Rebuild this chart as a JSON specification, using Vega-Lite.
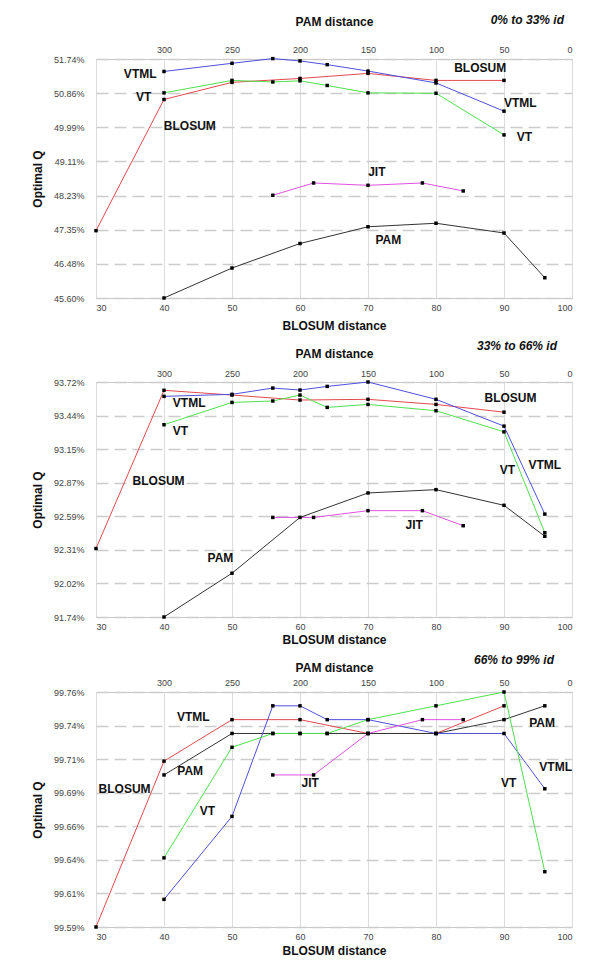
{
  "$schema": "https://vega.github.io/schema/vega-lite/v6.json",
  "background": "white",
  "padding": {"left": 30, "top": 13, "right": 5, "bottom": 5},
  "spacing": 7,
  "datasets": {
    "p1": [
      {"series": "BLOSUM", "x": 30, "y": 47.33}, {"series": "BLOSUM", "x": 40, "y": 50.70}, {"series": "BLOSUM", "x": 50, "y": 51.14}, {"series": "BLOSUM", "x": 60, "y": 51.24}, {"series": "BLOSUM", "x": 70, "y": 51.37}, {"series": "BLOSUM", "x": 80, "y": 51.19}, {"series": "BLOSUM", "x": 90, "y": 51.19},
      {"series": "VTML", "x": 40, "y": 51.42}, {"series": "VTML", "x": 50, "y": 51.63}, {"series": "VTML", "x": 56, "y": 51.75}, {"series": "VTML", "x": 60, "y": 51.69}, {"series": "VTML", "x": 64, "y": 51.595}, {"series": "VTML", "x": 70, "y": 51.43}, {"series": "VTML", "x": 80, "y": 51.125}, {"series": "VTML", "x": 90, "y": 50.40},
      {"series": "VT", "x": 40, "y": 50.87}, {"series": "VT", "x": 50, "y": 51.19}, {"series": "VT", "x": 56, "y": 51.15}, {"series": "VT", "x": 60, "y": 51.18}, {"series": "VT", "x": 64, "y": 51.06}, {"series": "VT", "x": 70, "y": 50.87}, {"series": "VT", "x": 80, "y": 50.86}, {"series": "VT", "x": 90, "y": 49.79},
      {"series": "JIT", "x": 56, "y": 48.24}, {"series": "JIT", "x": 62, "y": 48.555}, {"series": "JIT", "x": 70, "y": 48.495}, {"series": "JIT", "x": 78, "y": 48.555}, {"series": "JIT", "x": 84, "y": 48.35},
      {"series": "PAM", "x": 40, "y": 45.60}, {"series": "PAM", "x": 50, "y": 46.37}, {"series": "PAM", "x": 60, "y": 47.00}, {"series": "PAM", "x": 70, "y": 47.43}, {"series": "PAM", "x": 80, "y": 47.52}, {"series": "PAM", "x": 90, "y": 47.27}, {"series": "PAM", "x": 96, "y": 46.12}
    ],
    "p2": [
      {"series": "BLOSUM", "x": 30, "y": 92.317}, {"series": "BLOSUM", "x": 40, "y": 93.65}, {"series": "BLOSUM", "x": 50, "y": 93.61}, {"series": "BLOSUM", "x": 60, "y": 93.568}, {"series": "BLOSUM", "x": 70, "y": 93.574}, {"series": "BLOSUM", "x": 80, "y": 93.531}, {"series": "BLOSUM", "x": 90, "y": 93.466},
      {"series": "VTML", "x": 40, "y": 93.599}, {"series": "VTML", "x": 50, "y": 93.616}, {"series": "VTML", "x": 56, "y": 93.669}, {"series": "VTML", "x": 60, "y": 93.652}, {"series": "VTML", "x": 64, "y": 93.683}, {"series": "VTML", "x": 70, "y": 93.72}, {"series": "VTML", "x": 80, "y": 93.574}, {"series": "VTML", "x": 90, "y": 93.348}, {"series": "VTML", "x": 96, "y": 92.607},
      {"series": "VT", "x": 40, "y": 93.36}, {"series": "VT", "x": 50, "y": 93.548}, {"series": "VT", "x": 56, "y": 93.56}, {"series": "VT", "x": 60, "y": 93.61}, {"series": "VT", "x": 64, "y": 93.506}, {"series": "VT", "x": 70, "y": 93.531}, {"series": "VT", "x": 80, "y": 93.478}, {"series": "VT", "x": 90, "y": 93.30}, {"series": "VT", "x": 96, "y": 92.45},
      {"series": "JIT", "x": 56, "y": 92.579}, {"series": "JIT", "x": 62, "y": 92.579}, {"series": "JIT", "x": 70, "y": 92.636}, {"series": "JIT", "x": 78, "y": 92.636}, {"series": "JIT", "x": 84, "y": 92.509},
      {"series": "PAM", "x": 40, "y": 91.74}, {"series": "PAM", "x": 50, "y": 92.109}, {"series": "PAM", "x": 60, "y": 92.579}, {"series": "PAM", "x": 70, "y": 92.785}, {"series": "PAM", "x": 80, "y": 92.813}, {"series": "PAM", "x": 90, "y": 92.681}, {"series": "PAM", "x": 96, "y": 92.42}
    ],
    "p3": [
      {"series": "BLOSUM", "x": 30, "y": 99.59}, {"series": "BLOSUM", "x": 40, "y": 99.71}, {"series": "BLOSUM", "x": 50, "y": 99.74}, {"series": "BLOSUM", "x": 60, "y": 99.74}, {"series": "BLOSUM", "x": 70, "y": 99.73}, {"series": "BLOSUM", "x": 80, "y": 99.73}, {"series": "BLOSUM", "x": 90, "y": 99.75},
      {"series": "PAM", "x": 40, "y": 99.70}, {"series": "PAM", "x": 50, "y": 99.73}, {"series": "PAM", "x": 56, "y": 99.73}, {"series": "PAM", "x": 60, "y": 99.73}, {"series": "PAM", "x": 64, "y": 99.73}, {"series": "PAM", "x": 70, "y": 99.73}, {"series": "PAM", "x": 80, "y": 99.73}, {"series": "PAM", "x": 90, "y": 99.74}, {"series": "PAM", "x": 96, "y": 99.75},
      {"series": "VTML", "x": 40, "y": 99.61}, {"series": "VTML", "x": 50, "y": 99.67}, {"series": "VTML", "x": 56, "y": 99.75}, {"series": "VTML", "x": 60, "y": 99.75}, {"series": "VTML", "x": 64, "y": 99.74}, {"series": "VTML", "x": 70, "y": 99.74}, {"series": "VTML", "x": 80, "y": 99.73}, {"series": "VTML", "x": 90, "y": 99.73}, {"series": "VTML", "x": 96, "y": 99.69},
      {"series": "VT", "x": 40, "y": 99.64}, {"series": "VT", "x": 50, "y": 99.72}, {"series": "VT", "x": 56, "y": 99.73}, {"series": "VT", "x": 60, "y": 99.73}, {"series": "VT", "x": 64, "y": 99.73}, {"series": "VT", "x": 70, "y": 99.74}, {"series": "VT", "x": 80, "y": 99.75}, {"series": "VT", "x": 90, "y": 99.76}, {"series": "VT", "x": 96, "y": 99.63},
      {"series": "JIT", "x": 56, "y": 99.70}, {"series": "JIT", "x": 62, "y": 99.70}, {"series": "JIT", "x": 70, "y": 99.73}, {"series": "JIT", "x": 78, "y": 99.74}, {"series": "JIT", "x": 84, "y": 99.74}
    ],
    "l1": [
      {"label": "VTML", "x": 36.5, "y": 51.36}, {"label": "VT", "x": 37.0, "y": 50.76}, {"label": "BLOSUM", "x": 43.8, "y": 50.015}, {"label": "BLOSUM", "x": 86.5, "y": 51.50},
      {"label": "VTML", "x": 92.4, "y": 50.61}, {"label": "VT", "x": 93.0, "y": 49.725}, {"label": "JIT", "x": 71.3, "y": 48.84}, {"label": "PAM", "x": 73.0, "y": 47.08}
    ],
    "l2": [
      {"label": "VTML", "x": 43.7, "y": 93.543}, {"label": "VT", "x": 42.4, "y": 93.306}, {"label": "BLOSUM", "x": 39.2, "y": 92.886}, {"label": "BLOSUM", "x": 90.95, "y": 93.588},
      {"label": "VT", "x": 90.5, "y": 92.982}, {"label": "VTML", "x": 96.0, "y": 93.024}, {"label": "JIT", "x": 76.8, "y": 92.517}, {"label": "PAM", "x": 48.3, "y": 92.233}
    ],
    "l3": [
      {"label": "VTML", "x": 44.3, "y": 99.742}, {"label": "PAM", "x": 43.85, "y": 99.7028}, {"label": "BLOSUM", "x": 34.2, "y": 99.690}, {"label": "VT", "x": 46.4, "y": 99.674},
      {"label": "JIT", "x": 61.5, "y": 99.6944}, {"label": "PAM", "x": 95.6, "y": 99.7379}, {"label": "VTML", "x": 97.6, "y": 99.7061}, {"label": "VT", "x": 90.7, "y": 99.6939}
    ]
  },
  "vconcat": [
    {
      "width": 476, "height": 239,
      "title": {"text": "0% to 33% id", "anchor": "end", "frame": "group", "fontStyle": "italic", "fontWeight": "bold", "fontSize": 12, "offset": -12, "dx": -8, "color": "#111"},
      "resolve": {"axis": {"x": "independent"}},
      "layer": [
        {
          "data": {"name": "p1"},
          "mark": {"type": "line", "strokeWidth": 1},
          "encoding": {
            "x": {"field": "x", "type": "quantitative", "scale": {"domain": [30, 100], "nice": false}, "axis": {"orient": "bottom", "values": [30, 40, 50, 60, 70, 80, 90, 100], "tickCount": 20, "grid": true, "gridColor": "#dcdcdc", "title": "BLOSUM distance", "labelPadding": 5, "titlePadding": 8}},
            "y": {"field": "y", "type": "quantitative", "scale": {"domain": [45.6, 51.74], "nice": false, "zero": false}, "axis": {"values": [45.6, 46.477143, 47.354286, 48.231429, 49.108571, 49.985714, 50.862857, 51.74], "tickCount": 20, "labelExpr": "format(datum.value, '.2f') + '%'", "labelOverlap": false, "grid": true, "gridDash": [12, 6], "gridColor": "#cccccc", "gridWidth": 1.5, "title": "Optimal Q", "labelPadding": 12, "titlePadding": 9}},
            "color": {"field": "series", "type": "nominal", "scale": {"domain": ["BLOSUM", "VTML", "VT", "JIT", "PAM"], "range": ["#e4494e", "#4f4fe0", "#4fe04f", "#e052e0", "#333333"]}, "legend": null}
          }
        },
        {
          "data": {"name": "p1"},
          "mark": {"type": "point", "shape": "square", "filled": true, "color": "#000000", "size": 12, "opacity": 1},
          "encoding": {
            "x": {"field": "x", "type": "quantitative", "axis": {"orient": "top", "values": [40, 50, 60, 70, 80, 90, 100], "tickCount": 20, "labelExpr": "toString((100 - datum.value) * 5)", "grid": false, "title": "PAM distance", "labelPadding": 5, "titlePadding": 17}},
            "y": {"field": "y", "type": "quantitative", "axis": {"labelOverlap": false, "tickCount": 20, "title": "Optimal Q"}}
          }
        },
        {
          "data": {"name": "l1"},
          "mark": {"type": "text", "fontWeight": "bold", "fontSize": 12, "font": "Liberation Sans", "color": "#111", "align": "center", "baseline": "middle"},
          "encoding": {
            "x": {"field": "x", "type": "quantitative", "axis": null},
            "y": {"field": "y", "type": "quantitative", "axis": {"labelOverlap": false, "tickCount": 20, "title": "Optimal Q"}},
            "text": {"field": "label"}
          }
        }
      ]
    },
    {
      "width": 476, "height": 235,
      "title": {"text": "33% to 66% id", "anchor": "end", "frame": "group", "fontStyle": "italic", "fontWeight": "bold", "fontSize": 12, "offset": -6, "dx": -15, "color": "#111"},
      "resolve": {"axis": {"x": "independent"}},
      "layer": [
        {
          "data": {"name": "p2"},
          "mark": {"type": "line", "strokeWidth": 1},
          "encoding": {
            "x": {"field": "x", "type": "quantitative", "scale": {"domain": [30, 100], "nice": false}, "axis": {"orient": "bottom", "values": [30, 40, 50, 60, 70, 80, 90, 100], "tickCount": 20, "grid": true, "gridColor": "#dcdcdc", "title": "BLOSUM distance", "labelPadding": 5, "titlePadding": 3}},
            "y": {"field": "y", "type": "quantitative", "scale": {"domain": [91.74, 93.72], "nice": false, "zero": false}, "axis": {"values": [91.74, 92.022857, 92.305714, 92.588571, 92.871429, 93.154286, 93.437143, 93.72], "tickCount": 20, "labelExpr": "format(datum.value, '.2f') + '%'", "labelOverlap": false, "grid": true, "gridDash": [12, 6], "gridColor": "#cccccc", "gridWidth": 1.5, "title": "Optimal Q", "labelPadding": 12, "titlePadding": 9}},
            "color": {"field": "series", "type": "nominal", "scale": {"domain": ["BLOSUM", "VTML", "VT", "JIT", "PAM"], "range": ["#e4494e", "#4f4fe0", "#4fe04f", "#e052e0", "#333333"]}, "legend": null}
          }
        },
        {
          "data": {"name": "p2"},
          "mark": {"type": "point", "shape": "square", "filled": true, "color": "#000000", "size": 12, "opacity": 1},
          "encoding": {
            "x": {"field": "x", "type": "quantitative", "axis": {"orient": "top", "values": [40, 50, 60, 70, 80, 90, 100], "tickCount": 20, "labelExpr": "toString((100 - datum.value) * 5)", "grid": false, "title": "PAM distance", "labelPadding": 4, "titlePadding": 9}},
            "y": {"field": "y", "type": "quantitative", "axis": {"labelOverlap": false, "tickCount": 20, "title": "Optimal Q"}}
          }
        },
        {
          "data": {"name": "l2"},
          "mark": {"type": "text", "fontWeight": "bold", "fontSize": 12, "font": "Liberation Sans", "color": "#111", "align": "center", "baseline": "middle"},
          "encoding": {
            "x": {"field": "x", "type": "quantitative", "axis": null},
            "y": {"field": "y", "type": "quantitative", "axis": {"labelOverlap": false, "tickCount": 20, "title": "Optimal Q"}},
            "text": {"field": "label"}
          }
        }
      ]
    },
    {
      "width": 476, "height": 235,
      "title": {"text": "66% to 99% id", "anchor": "end", "frame": "group", "fontStyle": "italic", "fontWeight": "bold", "fontSize": 12, "offset": -6, "dx": -18, "color": "#111"},
      "resolve": {"axis": {"x": "independent"}},
      "layer": [
        {
          "data": {"name": "p3"},
          "mark": {"type": "line", "strokeWidth": 1},
          "encoding": {
            "x": {"field": "x", "type": "quantitative", "scale": {"domain": [30, 100], "nice": false}, "axis": {"orient": "bottom", "values": [30, 40, 50, 60, 70, 80, 90, 100], "tickCount": 20, "grid": true, "gridColor": "#dcdcdc", "title": "BLOSUM distance", "labelPadding": 5, "titlePadding": 4}},
            "y": {"field": "y", "type": "quantitative", "scale": {"domain": [99.59, 99.76], "nice": false, "zero": false}, "axis": {"values": [99.59, 99.614286, 99.638571, 99.662857, 99.687143, 99.711429, 99.735714, 99.76], "tickCount": 20, "labelExpr": "format(datum.value, '.2f') + '%'", "labelOverlap": false, "grid": true, "gridDash": [12, 6], "gridColor": "#cccccc", "gridWidth": 1.5, "title": "Optimal Q", "labelPadding": 12, "titlePadding": 9}},
            "color": {"field": "series", "type": "nominal", "scale": {"domain": ["BLOSUM", "VTML", "VT", "JIT", "PAM"], "range": ["#e4494e", "#4f4fe0", "#4fe04f", "#e052e0", "#333333"]}, "legend": null}
          }
        },
        {
          "data": {"name": "p3"},
          "mark": {"type": "point", "shape": "square", "filled": true, "color": "#000000", "size": 12, "opacity": 1},
          "encoding": {
            "x": {"field": "x", "type": "quantitative", "axis": {"orient": "top", "values": [40, 50, 60, 70, 80, 90, 100], "tickCount": 20, "labelExpr": "toString((100 - datum.value) * 5)", "grid": false, "title": "PAM distance", "labelPadding": 5, "titlePadding": 4}},
            "y": {"field": "y", "type": "quantitative", "axis": {"labelOverlap": false, "tickCount": 20, "title": "Optimal Q"}}
          }
        },
        {
          "data": {"name": "l3"},
          "mark": {"type": "text", "fontWeight": "bold", "fontSize": 12, "font": "Liberation Sans", "color": "#111", "align": "center", "baseline": "middle"},
          "encoding": {
            "x": {"field": "x", "type": "quantitative", "axis": null},
            "y": {"field": "y", "type": "quantitative", "axis": {"labelOverlap": false, "tickCount": 20, "title": "Optimal Q"}},
            "text": {"field": "label"}
          }
        }
      ]
    }
  ],
  "config": {
    "font": "Liberation Sans",
    "view": {"stroke": "#c8c8c8"},
    "axis": {"labelFont": "Liberation Sans", "labelFontSize": 9, "labelColor": "#444444", "titleFont": "Liberation Sans", "titleFontSize": 12, "titleFontWeight": "bold", "titleColor": "#111111", "domain": false, "ticks": false, "labelOverlap": false},
    "title": {"font": "Liberation Sans"}
  }
}
